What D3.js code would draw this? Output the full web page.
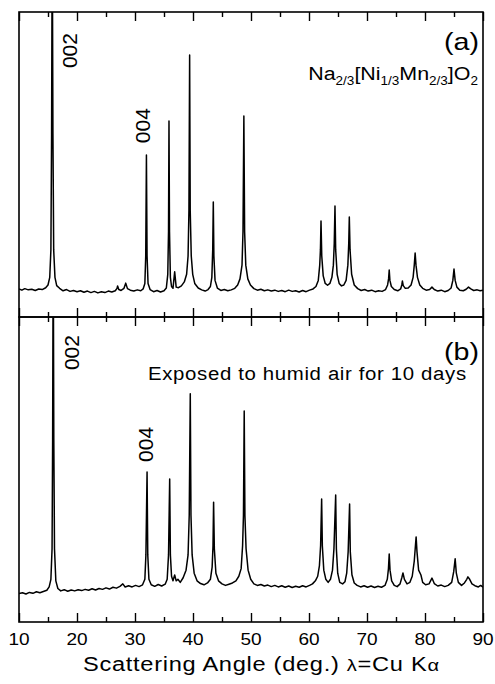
<!DOCTYPE html>
<meta charset="utf-8">
<style>
  body { margin: 0; background: #fff; }
  svg { display: block; }
  text { font-family: "Liberation Sans", Arial, Helvetica, sans-serif; fill: #000; }
  .frame { fill: none; stroke: #000; stroke-width: 1.6px; }
  .axis path { display: none; }
  .axis line { stroke: #000; stroke-width: 1.4px; }
  .trace { fill: none; stroke: #000; stroke-width: 1.5px; stroke-linejoin: round; }
</style>
<svg width="495" height="684"></svg>
<script src="https://d3js.org/d3.v7.min.js"></script>
<script>

// x ticks
var majorTicks = [10, 20, 30, 40, 50, 60, 70, 80, 90];
var minorTicks = [15, 25, 35, 45, 55, 65, 75, 85];
var tickLabels = ["10", "20", "30", "40", "50", "60", "70", "80", "90"];

// (a) pristine powder: [2theta, intensity]
var panelA = [
  [10.0, 9.2], [10.5, 8.8], [11.0, 9.3], [11.6, 8.9], [12.2, 9.1], [12.8, 8.7], [13.4, 9.2], [14.0, 9.0],
  [14.6, 9.6], [15.0, 10.5], [15.3, 13], [15.5, 22], [15.62, 60], [15.73, 130], [15.85, 60], [15.98, 22],
  [16.2, 13], [16.5, 10.3], [17.0, 9.4], [17.6, 8.6], [18.2, 9.0], [18.8, 8.4], [19.4, 8.7], [20.0, 8.3],
  [20.6, 8.6], [21.2, 8.1], [21.8, 8.5], [22.4, 8.0], [23.0, 8.4], [23.6, 7.9], [24.2, 8.3], [24.8, 8.0],
  [25.4, 8.5], [26.0, 8.2], [26.6, 8.6], [26.9, 9.4], [27.0, 10.2], [27.2, 9.0], [27.6, 8.7], [28.1, 9.4],
  [28.4, 11.1], [28.7, 9.3], [29.2, 8.8], [29.8, 8.5], [30.4, 8.9], [31.0, 8.6], [31.4, 9.2], [31.7, 11],
  [31.85, 20], [31.97, 53.1], [32.08, 20], [32.25, 11], [32.6, 9.0], [33.2, 8.3], [33.8, 8.7], [34.4, 8.2],
  [35.0, 8.6], [35.4, 9.5], [35.65, 14], [35.78, 28], [35.86, 64.3], [35.95, 28], [36.1, 13], [36.3, 10],
  [36.55, 9.4], [36.84, 14.8], [37.1, 9.8], [37.5, 9.6], [38.0, 10.2], [38.5, 11.5], [38.9, 14], [39.15, 20],
  [39.3, 35], [39.42, 85.9], [39.52, 35], [39.7, 20], [39.95, 14], [40.3, 11], [40.9, 9.5], [41.5, 8.9],
  [42.1, 8.5], [42.6, 9.0], [43.0, 10], [43.25, 13], [43.4, 22], [43.5, 37.7], [43.6, 20], [43.8, 12],
  [44.2, 9.5], [44.8, 8.7], [45.4, 9.0], [46.0, 8.6], [46.6, 8.9], [47.2, 9.4], [47.7, 10.5], [48.1, 12.5],
  [48.45, 17], [48.62, 28], [48.77, 65.9], [48.9, 28], [49.1, 17], [49.45, 12.5], [49.9, 10.5], [50.5, 9.3],
  [51.1, 8.8], [51.7, 9.1], [52.3, 8.6], [52.9, 8.9], [53.5, 8.5], [54.1, 8.8], [54.7, 8.4], [55.3, 8.7],
  [55.9, 8.3], [56.5, 8.8], [57.1, 8.4], [57.7, 8.6], [58.3, 8.2], [58.9, 8.7], [59.5, 8.3], [60.1, 8.8],
  [60.7, 9.2], [61.2, 10], [61.6, 12], [61.85, 17], [61.97, 22], [62.07, 31.5], [62.2, 20], [62.45, 13.5],
  [62.8, 11.0], [63.2, 10.4], [63.6, 11.0], [63.95, 13], [64.2, 17], [64.35, 24], [64.48, 36.4], [64.6, 22],
  [64.85, 14], [65.2, 11], [65.6, 10.2], [66.0, 10.5], [66.4, 12], [66.7, 17], [66.85, 24], [66.95, 32.8],
  [67.08, 22], [67.35, 14], [67.8, 10.5], [68.4, 9.3], [69.0, 8.7], [69.6, 9.0], [70.2, 8.5], [70.8, 8.8],
  [71.4, 8.3], [72.0, 8.6], [72.6, 8.4], [73.2, 9.0], [73.55, 10.5], [73.72, 12.5], [73.83, 15.4], [73.95, 12],
  [74.2, 10], [74.7, 9.0], [75.3, 8.6], [75.8, 9.2], [76.0, 10.5], [76.1, 11.8], [76.25, 10.3], [76.6, 9.4],
  [77.1, 9.5], [77.6, 10.5], [77.95, 13], [78.15, 17], [78.3, 21.0], [78.45, 17], [78.7, 13], [79.1, 10.5],
  [79.6, 9.4], [80.2, 8.8], [80.8, 9.0], [81.2, 9.8], [81.6, 9.0], [82.2, 8.5], [82.8, 8.8], [83.4, 8.3],
  [84.0, 8.7], [84.5, 9.5], [84.8, 12], [85.0, 15.7], [85.2, 12], [85.5, 9.8], [86.0, 8.8], [86.6, 8.6],
  [87.1, 9.1], [87.5, 9.8], [87.9, 9.2], [88.4, 8.7], [89.0, 8.9], [89.5, 8.6], [90.0, 8.8]
];

// (b) after 10 days in humid air
var panelB = [
  [10.0, 9.3], [10.6, 9.6], [11.2, 9.2], [11.8, 9.7], [12.4, 9.4], [13.0, 9.9], [13.6, 9.6], [14.2, 10.0],
  [14.8, 10.4], [15.2, 11.5], [15.5, 14], [15.7, 24], [15.8, 60], [15.9, 130], [16.0, 60], [16.12, 24],
  [16.35, 13.5], [16.7, 11], [17.2, 10.2], [17.8, 10.6], [18.4, 10.1], [19.0, 10.5], [19.6, 10.2], [20.2, 10.6],
  [20.8, 10.3], [21.4, 10.7], [22.0, 10.4], [22.6, 10.9], [23.2, 10.5], [23.8, 11.0], [24.4, 10.7], [25.0, 11.2],
  [25.6, 10.8], [26.2, 11.4], [26.8, 11.1], [27.4, 11.7], [27.9, 12.5], [28.3, 11.5], [28.9, 11.9], [29.5, 11.5],
  [30.1, 12.0], [30.7, 11.6], [31.3, 12.2], [31.7, 14], [31.88, 22], [32.08, 49.2], [32.2, 22], [32.4, 14],
  [32.8, 12.2], [33.4, 11.7], [34.0, 12.3], [34.6, 11.8], [35.2, 12.4], [35.55, 14], [35.78, 22], [35.98, 46.9],
  [36.1, 22], [36.3, 15], [36.55, 13.5], [36.84, 15.4], [37.1, 13.5], [37.4, 14], [37.8, 13], [38.3, 14.5],
  [38.8, 17], [39.15, 22], [39.35, 35], [39.53, 74.8], [39.65, 35], [39.85, 22], [40.2, 16], [40.7, 13.5],
  [41.3, 12.6], [41.9, 12.2], [42.5, 12.8], [43.0, 14], [43.3, 18], [43.45, 25], [43.55, 39.3], [43.68, 24],
  [43.95, 16], [44.4, 13.5], [45.0, 12.5], [45.6, 12.0], [46.2, 12.4], [46.8, 12.8], [47.4, 13.5], [47.9, 15],
  [48.3, 17.5], [48.55, 25], [48.7, 35], [48.83, 69.2], [48.95, 35], [49.15, 24], [49.5, 17], [49.95, 14],
  [50.5, 12.5], [51.1, 12.0], [51.7, 12.3], [52.3, 11.8], [52.9, 12.1], [53.5, 11.6], [54.1, 12.0], [54.7, 11.5],
  [55.3, 11.9], [55.9, 11.4], [56.5, 11.8], [57.1, 11.3], [57.7, 11.7], [58.3, 11.4], [58.9, 11.9], [59.5, 11.5],
  [60.1, 12.0], [60.6, 12.5], [61.1, 13.5], [61.5, 15], [61.8, 18.5], [62.0, 25], [62.18, 40.3], [62.3, 25],
  [62.55, 17], [62.9, 14], [63.3, 13], [63.7, 14], [64.05, 17], [64.3, 24], [64.6, 41.6], [64.72, 24],
  [64.95, 16], [65.3, 13], [65.8, 12.5], [66.2, 13.2], [66.5, 16], [66.75, 23], [67.0, 38.7], [67.12, 23],
  [67.4, 15.5], [67.8, 12.8], [68.3, 12.0], [68.9, 11.5], [69.5, 11.9], [70.1, 11.4], [70.7, 11.8], [71.3, 11.3],
  [71.9, 11.7], [72.5, 11.4], [73.1, 12], [73.5, 14], [73.7, 17.5], [73.83, 22.3], [73.97, 17], [74.25, 13.5],
  [74.7, 12.0], [75.2, 11.6], [75.7, 12.5], [76.0, 14.5], [76.2, 16.1], [76.45, 14], [76.9, 12.5], [77.4, 13],
  [77.8, 15], [78.15, 20], [78.35, 25], [78.47, 27.9], [78.62, 23], [78.9, 17], [79.3, 15.4], [79.6, 13],
  [80.1, 12.2], [80.7, 12.5], [81.2, 14.4], [81.6, 12.6], [82.2, 11.8], [82.8, 12.1], [83.4, 11.6], [84.0, 12],
  [84.6, 13], [84.95, 16.5], [85.2, 20.7], [85.4, 16], [85.75, 13], [86.3, 12], [86.8, 12.8], [87.2, 14],
  [87.4, 14.8], [87.7, 14], [88.1, 12.5], [88.6, 11.9], [89.2, 11.5], [89.6, 12.0], [90.0, 11.4]
];

// reflection labels: [text, angle, intensity at start of rotated label]
var hklA = [["002", 20.0, 81.6], ["004", 32.5, 57.0]];
var hklB = [["002", 20.3, 82.6], ["004", 33.05, 52.5]];

var svg = d3.select("svg");

var x = d3.scaleLinear().domain([10, 90]).range([19, 483]);
var yA = d3.scaleLinear().domain([0, 100]).range([317, 12]);
var yB = d3.scaleLinear().domain([0, 100]).range([622, 317]);

// stretch a text horizontally so it spans a given width
function fit(sel, w) {
  var len = sel.node().getComputedTextLength();
  var t = sel.attr("transform") || "";
  sel.attr("transform", t + " scale(" + (w / len) + ",1)");
}

function panel(id, y, data, hkl) {
  var g = svg.append("g");

  g.append("clipPath").attr("id", "clip" + id)
    .append("rect")
    .attr("x", x(10)).attr("y", y(100))
    .attr("width", x(90) - x(10)).attr("height", y(0) - y(100));

  g.append("path")
    .datum(data)
    .attr("class", "trace")
    .attr("clip-path", "url(#clip" + id + ")")
    .attr("d", d3.line().x(function (d) { return x(d[0]); }).y(function (d) { return y(d[1]); }));

  // inward ticks, top and bottom
  g.append("g").attr("class", "axis")
    .attr("transform", "translate(0," + y(100) + ")")
    .call(d3.axisTop(x).tickValues(majorTicks).tickSize(-9).tickFormat(""));
  g.append("g").attr("class", "axis")
    .attr("transform", "translate(0," + y(100) + ")")
    .call(d3.axisTop(x).tickValues(minorTicks).tickSize(-5).tickFormat(""));
  g.append("g").attr("class", "axis")
    .attr("transform", "translate(0," + y(0) + ")")
    .call(d3.axisBottom(x).tickValues(majorTicks).tickSize(-9).tickFormat(""));
  g.append("g").attr("class", "axis")
    .attr("transform", "translate(0," + y(0) + ")")
    .call(d3.axisBottom(x).tickValues(minorTicks).tickSize(-5).tickFormat(""));

  g.append("rect").attr("class", "frame")
    .attr("x", x(10)).attr("y", y(100))
    .attr("width", x(90) - x(10)).attr("height", y(0) - y(100));

  hkl.forEach(function (h) {
    g.append("text")
      .attr("transform", "translate(" + x(h[1]) + "," + y(h[2]) + ") rotate(-90)")
      .style("font-size", "21px")
      .text(h[0]);
  });
}

panel("a", yA, panelA, hklA);
panel("b", yB, panelB, hklB);

// panel tags
var ta = svg.append("text")
  .attr("text-anchor", "end")
  .attr("transform", "translate(479,50)")
  .style("font-size", "24px")
  .text("(a)");
fit(ta, 35);

var tb = svg.append("text")
  .attr("text-anchor", "end")
  .attr("transform", "translate(479,360)")
  .style("font-size", "24px")
  .text("(b)");
fit(tb, 35);

// formula
var f = svg.append("text")
  .attr("text-anchor", "end")
  .attr("transform", "translate(478,80)")
  .style("font-size", "19px");
f.append("tspan").text("Na");
f.append("tspan").attr("dy", 5).style("font-size", "12px").text("2/3");
f.append("tspan").attr("dy", -5).text("[Ni");
f.append("tspan").attr("dy", 5).style("font-size", "12px").text("1/3");
f.append("tspan").attr("dy", -5).text("Mn");
f.append("tspan").attr("dy", 5).style("font-size", "12px").text("2/3");
f.append("tspan").attr("dy", -5).text("]O");
f.append("tspan").attr("dy", 5).style("font-size", "12px").text("2");
fit(f, 170);

var ex = svg.append("text")
  .attr("transform", "translate(148,380)")
  .style("font-size", "19px")
  .style("letter-spacing", "0.6px")
  .text("Exposed to humid air for 10 days");
fit(ex, 319);

// x tick labels
svg.selectAll(".xlab")
  .data(majorTicks)
  .join("text")
  .attr("class", "xlab")
  .attr("text-anchor", "middle")
  .attr("transform", function (d) { return "translate(" + x(d) + ",645) scale(1.12,1)"; })
  .style("font-size", "17px")
  .text(function (d, i) { return tickLabels[i]; });

// axis title
var title = svg.append("text")
  .attr("transform", "translate(83,671)")
  .style("font-size", "20px")
  .style("letter-spacing", "0.6px");
title.append("tspan").text("Scattering Angle (deg.)   ");
title.append("tspan").style("font-size", "17px").text("\u03bb");
title.append("tspan").text("=Cu K");
title.append("tspan").style("font-size", "17px").text("\u03b1");
fit(title, 357);

</script>
